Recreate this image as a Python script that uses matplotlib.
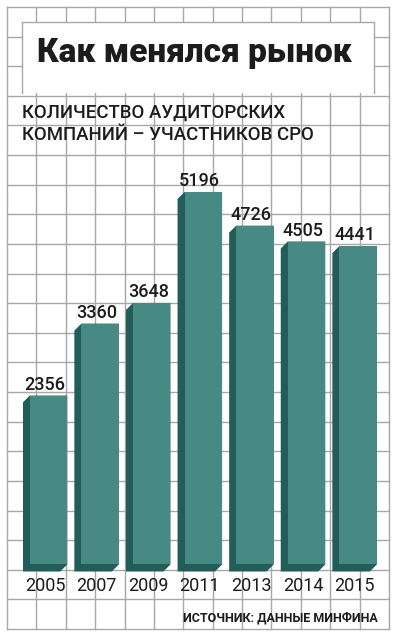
import numpy as np
import matplotlib
matplotlib.use('Agg')
import matplotlib.pyplot as plt
from matplotlib.patches import Polygon, Rectangle

years = ['2005', '2007', '2009', '2011', '2013', '2014', '2015']
counts = [2356, 3360, 3648, 5196, 4726, 4505, 4441]
title = 'Как менялся рынок'
subtitle = ['КОЛИЧЕСТВО АУДИТОРСКИХ', 'КОМПАНИЙ – УЧАСТНИКОВ СРО']
source = 'ИСТОЧНИК: ДАННЫЕ МИНФИНА'

W, H = 398, 640
front_c = '#478a84'
side_c = '#235d5a'
grid_c = '#a8a8a8'
txt_c = '#1c1c1c'
fam = ['Roboto', 'DejaVu Sans']

fig = plt.figure(figsize=(W / 100, H / 100), dpi=100)
fig.patch.set_facecolor('white')

# background in pixel coords: grid paper + title box + texts
bg = fig.add_axes([0, 0, 1, 1])
bg.set_xlim(0, W); bg.set_ylim(H, 0); bg.axis('off')
for x in np.linspace(7, 389, 14):
    bg.plot([x, x], [7, 629], color=grid_c, lw=1.0, zorder=1)
for y in np.linspace(7, 629, 22):
    bg.plot([7, 389], [y, y], color=grid_c, lw=1.0, zorder=1)

bg.add_patch(Rectangle((22, 22), 352, 71, fc='white', ec='none', zorder=2))
bg.plot([22, 22, 374, 374], [93, 22, 22, 93], color=grid_c, lw=1.0, zorder=3)
bg.text(194, 53, title, ha='center', va='center', fontsize=24, fontweight='black',
        color=txt_c, family=fam, zorder=4)
bg.text(22, 118, subtitle[0], ha='left', va='baseline', fontsize=13.4, fontweight='medium',
        color=txt_c, family=fam, zorder=4)
bg.text(22, 140, subtitle[1], ha='left', va='baseline', fontsize=13.4, fontweight='medium',
        color=txt_c, family=fam, zorder=4)
bg.text(378, 621, source, ha='right', va='baseline', fontsize=9, fontweight='bold',
        color=txt_c, family=fam, zorder=4)

# chart axes
ax = fig.add_axes([22.7 / W, (H - 572) / H, 361.2 / W, (572 - 180) / H])
ax.set_xlim(-0.5, 6.5)
ax.set_ylim(-105, 5363)
ax.patch.set_alpha(0)
for s in ax.spines.values():
    s.set_visible(False)

x = np.arange(len(years))
w = 37.5 / 51.6
dx = 7 / 51.6
dy = 7 / 0.0717

for i, v in zip(x, counts):
    l, r = i - w / 2, i + w / 2
    pts = [(l - dx, -dy), (l - dx, v - dy), (l, v), (r, v), (r, 0), (r - dx, -dy)]
    ax.add_patch(Polygon(pts, closed=True, fc=side_c, ec='none', zorder=2))
ax.bar(x, counts, width=w, color=front_c, zorder=3)

for i, v in zip(x, counts):
    ax.annotate(str(v), (i - dx / 2, v), xytext=(0, 4.3), textcoords='offset points',
                ha='center', va='baseline', fontsize=13, fontweight='medium',
                color=txt_c, family=fam)

ax.set_xticks(x - dx / 2)
ax.set_xticklabels(years, fontsize=13, color=txt_c, family=fam)
ax.tick_params(axis='x', length=0, pad=3.6)
ax.set_yticks([])

fig.savefig('out.png', dpi=100, facecolor='white')
